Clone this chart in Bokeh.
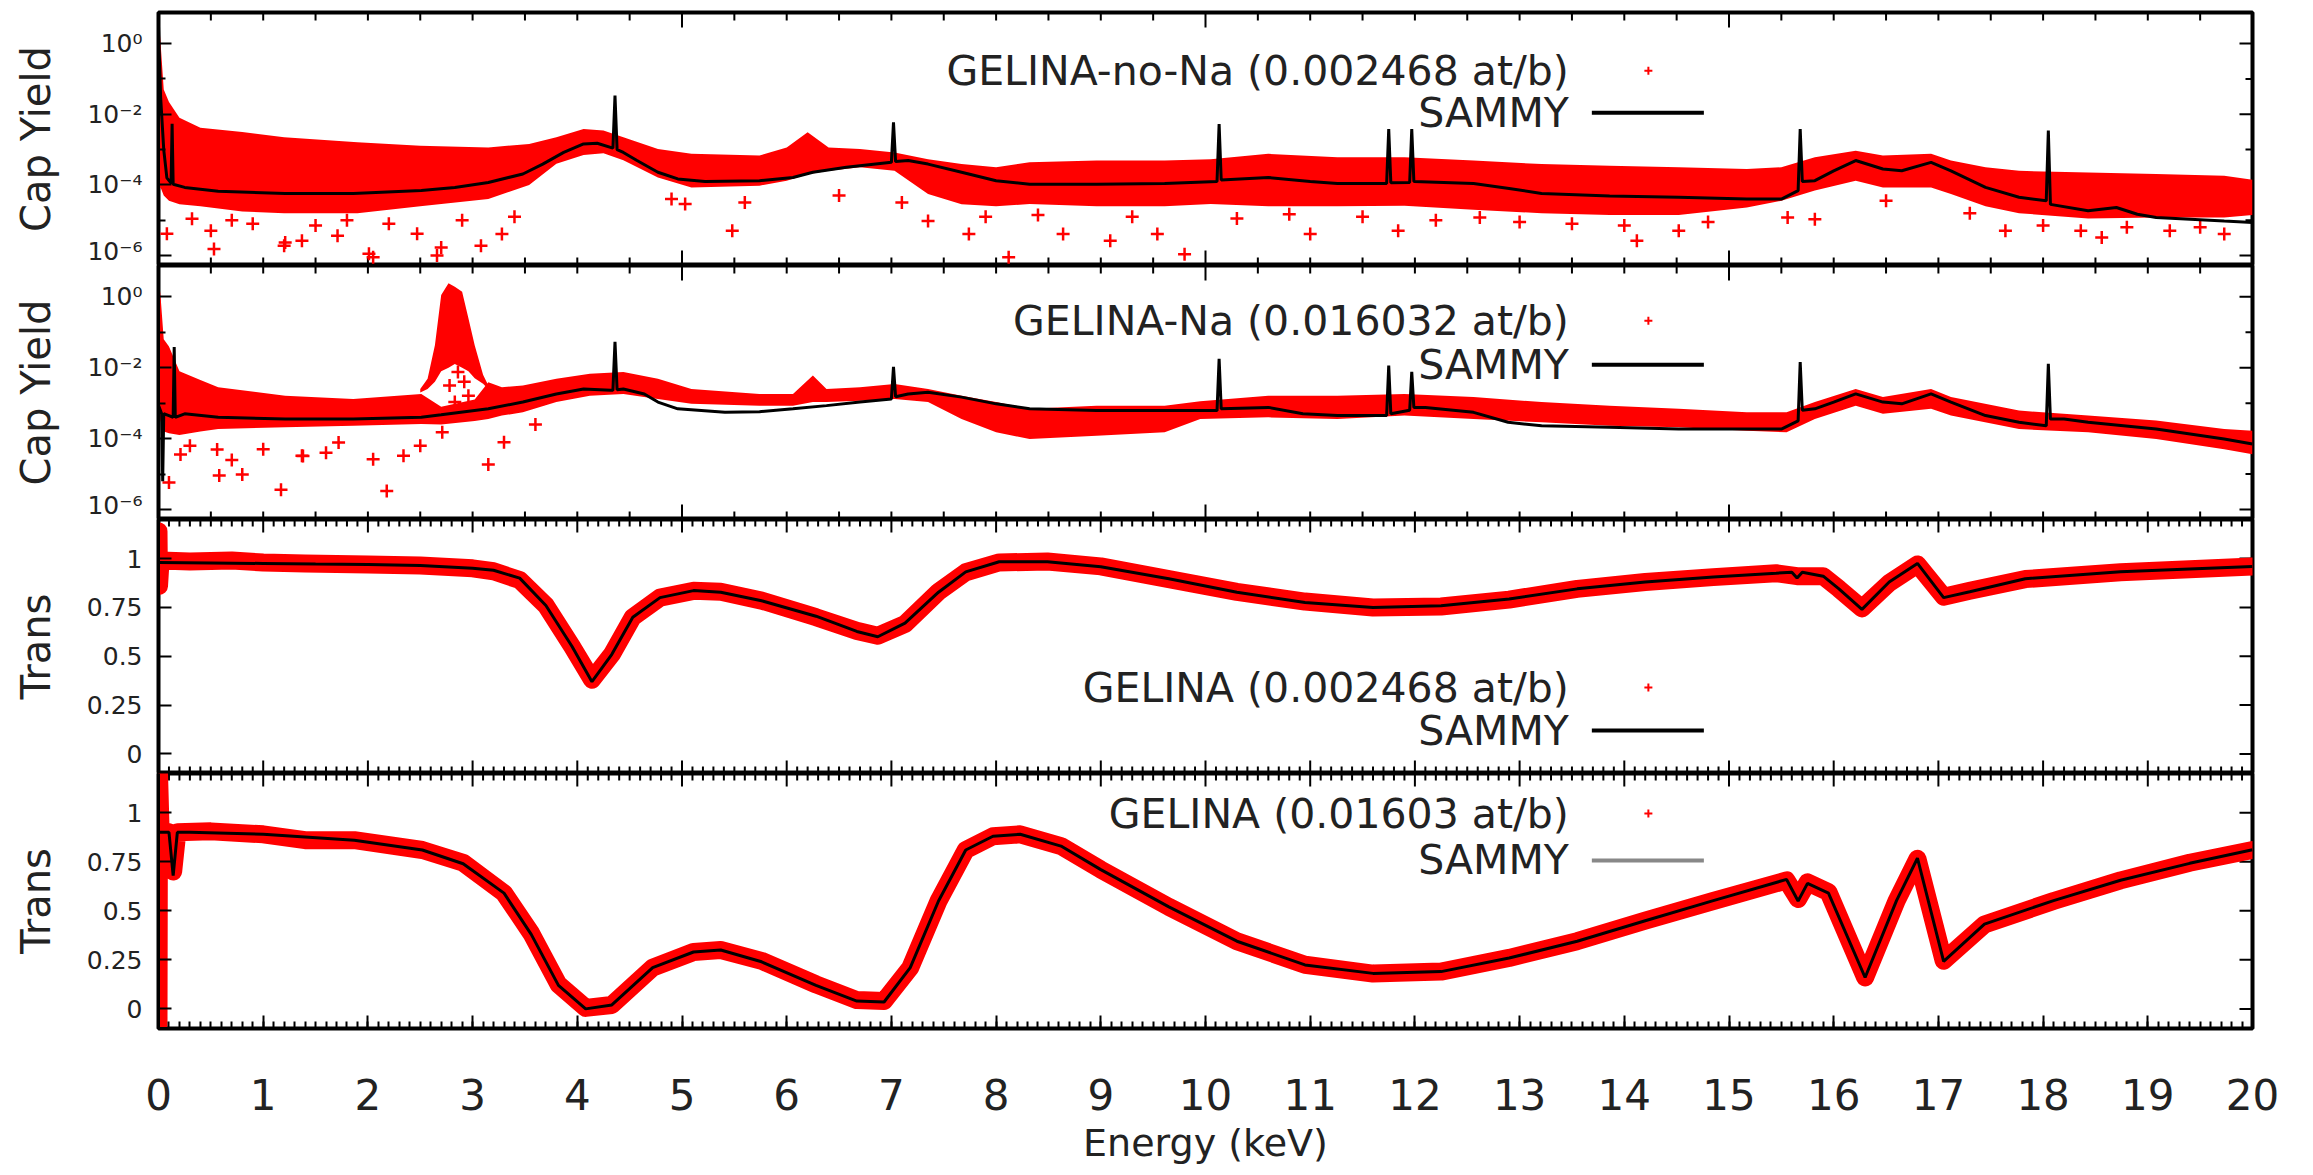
import numpy as np
from bokeh.plotting import figure
from bokeh.layouts import column
from bokeh.models import (Range1d, FixedTicker, SingleIntervalTicker,
                          CustomJSTickFormatter, Label)
from bokeh.embed import file_html
from bokeh.resources import INLINE

FONT = "DejaVu Sans"
RED = "#ff0000"

# ---------------------------------------------------------------------------
# Panel 1 : capture yield, GELINA sample without Na (values as log10 yield)
# ---------------------------------------------------------------------------
cap1_fit_x = [0.0, 0.02, 0.05, 0.08, 0.12, 0.13, 0.14, 0.25, 0.57, 1.21,
              1.86, 2.51, 2.83, 3.15, 3.48, 3.67, 3.87, 4.06, 4.19, 4.34,
              4.36, 4.38, 4.44, 4.57, 4.77, 4.96, 5.22, 5.74, 6.06, 6.25,
              6.57, 7.00, 7.02, 7.04, 7.16, 7.35, 7.67, 8.0, 8.32, 8.96,
              9.61, 10.11, 10.13, 10.15, 10.6, 11.0, 11.26, 11.73, 11.75, 11.77,
              11.95, 11.97, 11.99, 12.56, 12.9, 13.21, 13.86, 14.52, 15.17, 15.5,
              15.66, 15.68, 15.70, 15.82, 16.0, 16.21, 16.47, 16.65, 16.93, 17.12,
              17.45, 17.77, 18.03, 18.05, 18.07, 18.43, 18.7, 18.9, 19.08, 19.73,
              20.0]
cap1_fit_log = [0.5, -1.5, -3.0, -3.8, -3.95, -2.27, -3.98, -4.07, -4.18, -4.24,
                -4.24, -4.16, -4.07, -3.93, -3.69, -3.41, -3.08, -2.84, -2.82, -2.96,
                -1.47, -3.0, -3.08, -3.31, -3.64, -3.83, -3.90, -3.88, -3.79, -3.64,
                -3.50, -3.36, -2.23, -3.34, -3.31, -3.41, -3.64, -3.88, -3.98, -3.98,
                -3.96, -3.90, -2.28, -3.86, -3.79, -3.90, -3.96, -3.96, -2.42, -3.94,
                -3.93, -2.42, -3.90, -3.96, -4.10, -4.24, -4.31, -4.35, -4.40, -4.40,
                -4.16, -2.42, -3.90, -3.88, -3.60, -3.31, -3.55, -3.60, -3.36, -3.60,
                -4.07, -4.35, -4.45, -2.46, -4.55, -4.73, -4.64, -4.83, -4.92, -5.02,
                -5.06]

cap1_band_x = [0.0, 0.02, 0.05, 0.1, 0.2, 0.4, 0.8, 1.2, 1.9, 2.5,
               3.15, 3.54, 3.80, 4.06, 4.25, 4.44, 4.77, 5.09, 5.74, 6.0,
               6.2, 6.4, 6.7, 7.03, 7.35, 7.67, 8.0, 8.32, 8.96, 9.61,
               10.05, 10.6, 11.26, 11.9, 12.56, 13.21, 13.86, 14.52, 15.17, 15.5,
               15.82, 16.21, 16.47, 16.93, 17.12, 17.45, 17.77, 18.43, 19.08, 19.73,
               20.0]
cap1_band_hi_log = [0.8, 0.0, -1.3, -1.65, -2.1, -2.38, -2.5, -2.65, -2.79, -2.89,
                    -2.94, -2.84, -2.65, -2.42, -2.46, -2.65, -2.98, -3.12, -3.17, -2.94,
                    -2.51, -2.94, -2.98, -3.08, -3.27, -3.41, -3.50, -3.36, -3.31, -3.31,
                    -3.27, -3.12, -3.22, -3.22, -3.31, -3.41, -3.46, -3.50, -3.55, -3.50,
                    -3.22, -3.03, -3.17, -3.12, -3.31, -3.50, -3.60, -3.65, -3.69, -3.74,
                    -3.85]
cap1_band_lo_log = [-4.2, -4.07, -4.3, -4.45, -4.55, -4.6, -4.75, -4.8, -4.8, -4.6,
                    -4.4, -4.0, -3.4, -3.15, -3.1, -3.3, -3.79, -4.07, -4.02, -3.88,
                    -3.7, -3.6, -3.50, -3.60, -4.26, -4.55, -4.6, -4.54, -4.6, -4.6,
                    -4.54, -4.6, -4.6, -4.59, -4.7, -4.8, -4.85, -4.85, -4.64, -4.45,
                    -4.16, -3.88, -4.07, -4.07, -4.26, -4.6, -4.8, -4.95, -4.92, -4.92,
                    -4.85]

cap1_scatter_x = [0.08, 0.32, 0.50, 0.53, 0.7, 0.9, 1.20, 1.21, 1.37, 1.5,
                  1.71, 1.8, 2.01, 2.05, 2.2, 2.47, 2.66, 2.70, 2.9, 3.08,
                  3.28, 3.4, 4.9, 5.03, 5.48, 5.6, 6.5, 7.1, 7.35, 7.74,
                  7.9, 8.12, 8.4, 8.64, 9.09, 9.3, 9.54, 9.80, 10.3, 10.8,
                  11.0, 11.5, 11.84, 12.2, 12.62, 13.0, 13.5, 14.0, 14.12, 14.52,
                  14.8, 15.56, 15.82, 16.5, 17.3, 17.64, 18.0, 18.36, 18.56, 18.8,
                  19.21, 19.5, 19.73]
cap1_scatter_log = [-5.38, -4.96, -5.30, -5.81, -5.0, -5.1, -5.72, -5.63, -5.58, -5.15,
                    -5.44, -5.0, -5.95, -6.05, -5.1, -5.38, -6.0, -5.77, -5.0, -5.72,
                    -5.39, -4.9, -4.4, -4.54, -5.30, -4.5, -4.3, -4.5, -5.02, -5.39,
                    -4.9, -6.05, -4.85, -5.39, -5.58, -4.9, -5.39, -5.96, -4.95, -4.83,
                    -5.39, -4.9, -5.30, -5.0, -4.92, -5.05, -5.1, -5.15, -5.58, -5.30,
                    -5.05, -4.92, -4.97, -4.45, -4.8, -5.30, -5.15, -5.30, -5.49, -5.2,
                    -5.30, -5.2, -5.39]

# ---------------------------------------------------------------------------
# Panel 2 : capture yield, GELINA sample with Na (values as log10 yield)
# ---------------------------------------------------------------------------
cap2_fit_x = [0.0, 0.03, 0.04, 0.05, 0.1, 0.14, 0.15, 0.16, 0.25, 0.57,
              1.21, 1.86, 2.51, 2.70, 3.15, 3.48, 3.80, 4.06, 4.32, 4.34,
              4.36, 4.38, 4.44, 4.64, 4.77, 4.96, 5.41, 5.74, 6.06, 6.38,
              6.70, 7.00, 7.02, 7.04, 7.16, 7.35, 7.67, 8.0, 8.32, 8.96,
              9.61, 10.11, 10.13, 10.15, 10.6, 10.93, 11.26, 11.73, 11.75, 11.77,
              11.95, 11.97, 11.99, 12.1, 12.56, 12.89, 13.21, 13.86, 14.52, 15.17,
              15.5, 15.66, 15.68, 15.70, 15.82, 16.0, 16.21, 16.47, 16.65, 16.93,
              17.12, 17.45, 17.77, 18.03, 18.05, 18.07, 18.2, 18.43, 19.08, 19.73,
              20.0]
cap2_fit_log = [-3.06, -3.3, -5.2, -3.3, -3.35, -3.40, -1.42, -3.40, -3.30, -3.40,
                -3.45, -3.45, -3.40, -3.33, -3.16, -2.97, -2.74, -2.60, -2.64, -2.64,
                -1.27, -2.62, -2.60, -2.74, -2.97, -3.16, -3.26, -3.24, -3.16, -3.07,
                -2.97, -2.88, -1.98, -2.82, -2.74, -2.69, -2.83, -3.02, -3.16, -3.21,
                -3.21, -3.21, -1.75, -3.16, -3.12, -3.30, -3.35, -3.35, -1.94, -3.3,
                -3.2, -2.12, -3.12, -3.12, -3.26, -3.54, -3.64, -3.68, -3.73, -3.73,
                -3.73, -3.5, -1.84, -3.2, -3.16, -2.97, -2.74, -2.97, -3.02, -2.74,
                -2.97, -3.35, -3.54, -3.64, -1.89, -3.45, -3.45, -3.54, -3.73, -4.01,
                -4.15]

cap2_band_x = [0.0, 0.02, 0.05, 0.1, 0.2, 0.4, 0.57, 1.21, 1.86, 2.51,
               2.7, 3.02, 3.15, 3.28, 3.48, 3.80, 4.12, 4.44, 4.77, 5.09,
               5.74, 6.06, 6.25, 6.38, 6.70, 7.03, 7.35, 7.67, 8.0, 8.32,
               8.96, 9.61, 9.95, 10.60, 11.26, 11.9, 12.56, 13.21, 13.86, 14.52,
               15.17, 15.55, 15.82, 16.21, 16.47, 16.93, 17.12, 17.77, 18.43, 19.08,
               19.73, 20.0]
cap2_band_hi_log = [0.6, 0.0, -1.2, -1.4, -2.1, -2.35, -2.55, -2.79, -2.88, -2.74,
                    -3.1, -2.9, -2.41, -2.55, -2.50, -2.31, -2.17, -2.12, -2.31, -2.60,
                    -2.74, -2.74, -2.22, -2.60, -2.55, -2.46, -2.60, -2.79, -2.97, -3.16,
                    -3.07, -3.07, -2.95, -2.79, -2.79, -2.74, -2.83, -2.97, -3.07, -3.16,
                    -3.26, -3.26, -2.97, -2.60, -2.83, -2.60, -2.83, -3.21, -3.35, -3.49,
                    -3.73, -3.78]
cap2_band_lo_log = [-3.3, -3.5, -3.8, -3.85, -3.9, -3.8, -3.73, -3.68, -3.64, -3.59,
                    -3.6, -3.5, -3.45, -3.35, -3.26, -2.97, -2.79, -2.74, -2.88, -3.02,
                    -3.07, -3.07, -2.97, -2.97, -2.93, -2.88, -2.97, -3.45, -3.82, -4.01,
                    -3.92, -3.82, -3.45, -3.40, -3.45, -3.35, -3.45, -3.54, -3.64, -3.68,
                    -3.78, -3.82, -3.45, -3.07, -3.30, -3.16, -3.35, -3.73, -3.82, -4.01,
                    -4.30, -4.44]

# strong Na resonance seen in the data near 2.8 keV
cap2_peak_x = [2.50, 2.57, 2.64, 2.70, 2.77, 2.83, 2.90, 2.96, 3.02, 3.10, 3.15]
cap2_peak_hi_log = [-2.6, -2.31, -1.37, 0.05, 0.38, 0.28, 0.14, -0.61, -1.37, -2.2, -2.5]
cap2_peak_lo_log = [-2.7, -2.6, -2.4, -2.1, -2.0, -1.9, -2.0, -2.1, -2.3, -2.45, -2.6]

cap2_scatter_x = [0.10, 0.21, 0.3, 0.56, 0.58, 0.7, 0.80, 1.0, 1.17, 1.37,
                  1.38, 1.6, 1.72, 2.05, 2.18, 2.34, 2.5, 2.71, 2.78, 2.83,
                  2.86, 2.92, 2.96, 3.15, 3.3, 3.6]
cap2_scatter_log = [-5.24, -4.45, -4.2, -4.31, -5.04, -4.6, -5.01, -4.3, -5.44, -4.48,
                    -4.49, -4.4, -4.11, -4.58, -5.48, -4.48, -4.2, -3.82, -2.5, -2.97,
                    -2.12, -2.4, -2.79, -4.73, -4.1, -3.6]

# ---------------------------------------------------------------------------
# Panel 3 : transmission, 0.002468 at/b
# ---------------------------------------------------------------------------
tr1_fit_x = [0.0, 0.5, 1.0, 1.5, 2.0, 2.5, 3.0, 3.2, 3.45, 3.7,
             3.95, 4.14, 4.33, 4.53, 4.79, 5.11, 5.37, 5.76, 6.28, 6.67,
             6.87, 7.13, 7.45, 7.71, 8.03, 8.49, 9.0, 9.65, 10.3, 10.95,
             11.6, 12.25, 12.9, 13.55, 14.2, 14.85, 15.45, 15.6, 15.65, 15.7,
             15.9, 16.05, 16.27, 16.53, 16.8, 17.05, 17.3, 17.83, 18.74, 20.0]
tr1_fit = [0.98, 0.978, 0.975, 0.972, 0.97, 0.965, 0.95, 0.94, 0.90, 0.76,
           0.55, 0.37, 0.51, 0.70, 0.80, 0.836, 0.828, 0.784, 0.705, 0.627,
           0.60, 0.67, 0.828, 0.932, 0.984, 0.984, 0.958, 0.897, 0.828, 0.775,
           0.749, 0.758, 0.793, 0.845, 0.88, 0.906, 0.925, 0.93, 0.90, 0.93,
           0.91, 0.845, 0.74, 0.88, 0.975, 0.80, 0.83, 0.897, 0.932, 0.96]

tr1_data_x = [0.0, 0.005, 0.02, 0.3, 0.7, 1.0, 1.4, 2.0, 2.5, 3.0,
              3.2, 3.45, 3.7, 3.95, 4.14, 4.33, 4.53, 4.79, 5.11, 5.37,
              5.76, 6.28, 6.67, 6.87, 7.13, 7.45, 7.71, 8.03, 8.49, 9.0,
              9.65, 10.3, 10.95, 11.6, 12.25, 12.9, 13.55, 14.2, 14.85, 15.45,
              15.65, 15.9, 16.05, 16.27, 16.53, 16.8, 17.05, 17.3, 17.83, 18.74,
              19.4, 20.0]
tr1_data = [1.14, 0.86, 0.99, 0.985, 0.99, 0.98, 0.975, 0.97, 0.965, 0.95,
            0.935, 0.89, 0.76, 0.55, 0.38, 0.51, 0.70, 0.80, 0.835, 0.83,
            0.785, 0.70, 0.63, 0.605, 0.665, 0.83, 0.93, 0.98, 0.985, 0.96,
            0.895, 0.83, 0.78, 0.75, 0.755, 0.79, 0.845, 0.88, 0.905, 0.925,
            0.91, 0.91, 0.845, 0.745, 0.875, 0.97, 0.805, 0.835, 0.895, 0.93,
            0.945, 0.96]

# ---------------------------------------------------------------------------
# Panel 4 : transmission, 0.01603 at/b
# ---------------------------------------------------------------------------
tr2_fit_x = [0.0, 0.1, 0.14, 0.18, 0.3, 1.0, 1.87, 2.52, 2.91, 3.3,
             3.56, 3.82, 4.08, 4.33, 4.72, 5.11, 5.37, 5.76, 6.28, 6.67,
             6.93, 7.18, 7.45, 7.71, 7.97, 8.23, 8.62, 9.0, 9.65, 10.3,
             10.95, 11.6, 12.25, 12.9, 13.55, 14.2, 14.85, 15.55, 15.66, 15.75,
             15.95, 16.3, 16.6, 16.8, 17.05, 17.44, 18.1, 18.74, 19.4, 20.0]
tr2_fit = [0.90, 0.90, 0.68, 0.90, 0.90, 0.89, 0.86, 0.81, 0.74, 0.59,
           0.38, 0.12, 0.0, 0.02, 0.21, 0.29, 0.30, 0.24, 0.12, 0.04,
           0.035, 0.21, 0.55, 0.81, 0.88, 0.89, 0.83, 0.71, 0.52, 0.345,
           0.224, 0.181, 0.19, 0.259, 0.345, 0.449, 0.552, 0.66, 0.55, 0.64,
           0.59, 0.16, 0.552, 0.768, 0.242, 0.432, 0.552, 0.656, 0.742, 0.811]

tr2_data_x = [0.0, 0.005, 0.02, 0.1, 0.14, 0.18, 0.5, 1.0, 1.4, 1.87,
              2.52, 2.91, 3.3, 3.56, 3.82, 4.08, 4.33, 4.72, 5.11, 5.37,
              5.76, 6.28, 6.67, 6.93, 7.18, 7.45, 7.71, 7.97, 8.23, 8.62,
              9.0, 9.65, 10.3, 10.95, 11.6, 12.25, 12.9, 13.55, 14.2, 14.85,
              15.55, 15.66, 15.75, 15.95, 16.3, 16.6, 16.8, 17.05, 17.44, 18.1,
              18.74, 19.4, 20.0]
tr2_data = [-0.1, 1.2, 0.91, 0.90, 0.70, 0.90, 0.905, 0.89, 0.86, 0.86,
            0.81, 0.745, 0.59, 0.385, 0.125, 0.005, 0.02, 0.21, 0.29, 0.30,
            0.245, 0.125, 0.045, 0.04, 0.21, 0.55, 0.81, 0.88, 0.89, 0.83,
            0.71, 0.52, 0.345, 0.225, 0.18, 0.19, 0.26, 0.345, 0.45, 0.55,
            0.655, 0.56, 0.645, 0.595, 0.16, 0.55, 0.765, 0.245, 0.43, 0.55,
            0.655, 0.745, 0.81]

# axis ticks
LOG_TICKS = [1e-6, 1e-4, 1e-2, 1.0]
LOG_MINOR = [1e-5, 1e-3, 1e-1]
LIN_TICKS = [0.0, 0.25, 0.5, 0.75, 1.0]

legend_labels = ["GELINA-no-Na (0.002468 at/b)", "GELINA-Na (0.016032 at/b)",
                 "GELINA (0.002468 at/b)", "GELINA (0.01603 at/b)"]
fit_label = "SAMMY"

# ---------------------------------------------------------------------------
X_LO, X_HI = 0.0, 20.0
X_RANGE = Range1d(X_LO, X_HI)
Y_LOG = (10 ** -6.28, 10 ** 0.88)
Y_LIN = (-0.1, 1.2)


def log_formatter():
    return CustomJSTickFormatter(code="""
        const sup = {"-": "\\u207b", "0": "\\u2070", "1": "\\u00b9", "2": "\\u00b2",
                     "3": "\\u00b3", "4": "\\u2074", "5": "\\u2075", "6": "\\u2076",
                     "7": "\\u2077", "8": "\\u2078", "9": "\\u2079"};
        const e = Math.round(Math.log10(tick));
        let s = "";
        for (const c of String(e)) { s += sup[c]; }
        return "10" + s;
    """)


def lin_formatter():
    return CustomJSTickFormatter(code="return String(Math.round(tick * 100) / 100);")


def style_axis(ax, major_len, minor_len):
    ax.major_tick_in = major_len
    ax.major_tick_out = 0
    ax.minor_tick_in = minor_len
    ax.minor_tick_out = 0
    ax.axis_line_color = "black"
    ax.axis_line_width = 3
    ax.major_tick_line_color = "black"
    ax.major_tick_line_width = 2
    ax.minor_tick_line_color = "black"
    ax.minor_tick_line_width = 2


def edge_ticks(p, xs, ys, length, angle):
    """Inward tick marks along a frame edge, drawn as screen-length rays."""
    xs = np.asarray(xs, dtype=float)
    ys = np.broadcast_to(np.asarray(ys, dtype=float), xs.shape)
    p.ray(x=xs, y=ys, length=length, length_units="screen", angle=angle,
          line_color="black", line_width=2)


def make_panel(frame_h, log, ylabel, border_top=0, border_bottom=0, x_labels=False):
    y_lo, y_hi = Y_LOG if log else Y_LIN
    p = figure(frame_width=2094, frame_height=frame_h, x_range=X_RANGE,
               y_range=Range1d(y_lo, y_hi),
               y_axis_type="log" if log else "linear",
               output_backend="svg", toolbar_location=None,
               min_border_left=158, min_border_right=61,
               min_border_top=border_top, min_border_bottom=border_bottom)
    p.xgrid.visible = False
    p.ygrid.visible = False
    p.outline_line_color = "black"
    p.outline_line_width = 4
    p.background_fill_color = "white"
    p.border_fill_color = "white"

    # x tick spacing: 5 keV majors / 0.5 keV minors on the yield panels,
    # 1 keV majors / 0.1 keV minors on the transmission panels
    x_int = 5.0 if log else 1.0
    xmaj, xmin = (15, 8) if log else (13, 7)
    all_x = np.round(np.arange(X_LO, X_HI + 1e-9, x_int / 10.0), 6)
    maj_x = np.round(np.arange(X_LO, X_HI + 1e-9, x_int), 6)
    min_x = all_x[~np.isin(all_x, maj_x)]

    bottom = p.xaxis[0]
    if x_labels:
        bottom.ticker = SingleIntervalTicker(interval=x_int, num_minor_ticks=10)
        style_axis(bottom, xmaj, xmin)
        bottom.major_label_text_font = FONT
        bottom.major_label_text_font_size = "42px"
        bottom.major_label_text_color = "#222222"
        bottom.major_label_standoff = 50
        bottom.axis_label = "Energy (keV)"
        bottom.axis_label_text_font = FONT
        bottom.axis_label_text_font_size = "38px"
        bottom.axis_label_text_font_style = "normal"
        bottom.axis_label_text_color = "#222222"
        bottom.axis_label_standoff = 8
    else:
        bottom.visible = False
        edge_ticks(p, maj_x, y_lo, xmaj, np.pi / 2)
        edge_ticks(p, min_x, y_lo, xmin, np.pi / 2)

    # top edge
    edge_ticks(p, maj_x, y_hi, xmaj, -np.pi / 2)
    edge_ticks(p, min_x, y_hi, xmin, -np.pi / 2)

    left = p.yaxis[0]
    if log:
        left.ticker = FixedTicker(ticks=LOG_TICKS, minor_ticks=LOG_MINOR)
        left.formatter = log_formatter()
    else:
        left.ticker = FixedTicker(ticks=LIN_TICKS)
        left.formatter = lin_formatter()
    style_axis(left, 13, 7)
    left.major_label_text_font = FONT
    left.major_label_text_font_size = "25px"
    left.major_label_text_color = "#222222"
    left.major_label_standoff = 16
    left.axis_label = ylabel
    left.axis_label_text_font = FONT
    left.axis_label_text_font_size = "40px"
    left.axis_label_text_font_style = "normal"
    left.axis_label_text_color = "#222222"
    left.axis_label_standoff = 25

    # right edge mirrors the left ticks
    y_major = LOG_TICKS if log else LIN_TICKS
    edge_ticks(p, np.full(len(y_major), X_HI), y_major, 13, np.pi)
    if log:
        edge_ticks(p, np.full(len(LOG_MINOR), X_HI), LOG_MINOR, 7, np.pi)
    return p


def add_legend(p, label, y_data, y_fit, fit_color):
    for text, yy in ((label, y_data), (fit_label, y_fit)):
        p.add_layout(Label(x=13.47, y=yy, text=text, text_align="right",
                           text_baseline="middle", text_font=FONT,
                           text_font_size="41px", text_color="#222222"))
    p.scatter([14.23], [y_data], marker="cross", size=8, line_width=2, line_color=RED)
    p.line([13.69, 14.76], [y_fit, y_fit], line_color=fit_color, line_width=4)


def pw(a):
    return 10.0 ** np.asarray(a)


# --- capture yield, no Na ---
p1 = make_panel(253, True, "Cap Yield", border_top=12)
p1.varea(x=cap1_band_x, y1=pw(cap1_band_lo_log), y2=pw(cap1_band_hi_log), fill_color=RED)
p1.scatter(cap1_scatter_x, pw(cap1_scatter_log), marker="cross", size=13,
           line_width=2.5, line_color=RED)
p1.line(cap1_fit_x, pw(cap1_fit_log), line_color="black", line_width=3)
add_legend(p1, legend_labels[0], 10 ** -0.765, 10 ** -1.955, "black")

# --- capture yield, Na ---
p2 = make_panel(254, True, "Cap Yield")
p2.varea(x=cap2_band_x, y1=pw(cap2_band_lo_log), y2=pw(cap2_band_hi_log), fill_color=RED)
p2.varea(x=cap2_peak_x, y1=pw(cap2_peak_lo_log), y2=pw(cap2_peak_hi_log), fill_color=RED)
p2.scatter(cap2_scatter_x, pw(cap2_scatter_log), marker="cross", size=13,
           line_width=2.5, line_color=RED)
p2.line(cap2_fit_x, pw(cap2_fit_log), line_color="black", line_width=3)
add_legend(p2, legend_labels[1], 10 ** -0.68, 10 ** -1.92, "black")

# --- transmission, thin ---
p3 = make_panel(254, False, "Trans")
p3.line(tr1_data_x, tr1_data, line_color=RED, line_width=18,
        line_join="round", line_cap="round")
p3.line(tr1_fit_x, tr1_fit, line_color="black", line_width=3)
add_legend(p3, legend_labels[2], 0.34, 0.12, "black")

# --- transmission, thick ---
p4 = make_panel(255, False, "Trans", border_bottom=147, x_labels=True)
p4.line(tr2_data_x, tr2_data, line_color=RED, line_width=18,
        line_join="round", line_cap="round")
p4.line(tr2_fit_x, tr2_fit, line_color="black", line_width=3)
add_legend(p4, legend_labels[3], 0.996, 0.757, "#888888")

layout = column(p1, p2, p3, p4)
with open("out.html", "w", encoding="utf-8") as f:
    f.write(file_html(layout, INLINE, "Energy (keV)"))
